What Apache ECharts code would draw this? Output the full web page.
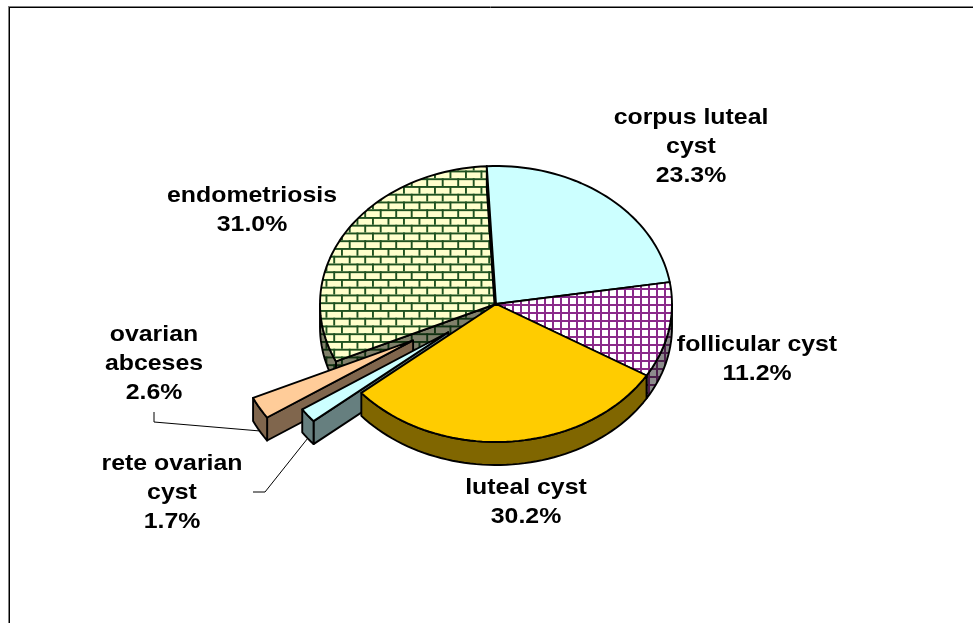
<!DOCTYPE html>
<html>
<head>
<meta charset="utf-8">
<style>
  html, body { margin: 0; padding: 0; background: #fff; }
  #main { width: 973px; height: 623px; }
</style>
<script src="https://cdn.jsdelivr.net/npm/echarts@6/dist/echarts.min.js"></script>
</head>
<body>
<div id="main"></div>
<script>
const categories = ['corpus luteal\ncyst', 'follicular cyst', 'luteal cyst', 'rete ovarian\ncyst', 'ovarian\nabceses', 'endometriosis'];
const values = [23.3, 11.2, 30.2, 1.7, 2.6, 31.0];
const explode = [0, 0, 0, 0.34, 0.54, 0];

// back to front, the two pulled out wedges go under the yellow slice
const drawOrder = [5, 0, 1, 4, 3, 2];

const labelAnchors = [[691, 147], [757, 359], [526, 502], [172, 493], [154, 364], [252, 210]];
const leaderBends = [null, null, null, [[253, 492], [265, 492]], [[154, 412], [154, 422]], null];

const cx = 496, cy = 304, rx = 176, ry = 138, depth = 23;
const startAngle = -3;

function makeTile(size, draw) {
  const c = document.createElement('canvas');
  c.width = c.height = size;
  draw(c.getContext('2d'));
  return { image: c, repeat: 'repeat' };
}

function brick(bg, line) {
  // two bricks across, 31px for a 15.5px pitch
  return makeTile(31, (g) => {
    g.fillStyle = bg;
    g.fillRect(0, 0, 31, 31);
    g.fillStyle = line;
    [0, 7.75, 15.5, 23.25].forEach((y, row) => {
      g.fillRect(0, y, 31, 1.9);
      const off = row % 2 ? 7.75 : 0;
      [0, 15.5].forEach((x) => g.fillRect(x + off, y, 1.9, 7.75));
    });
  });
}

function check(bg, line) {
  return makeTile(16, (g) => {
    g.fillStyle = bg;
    g.fillRect(0, 0, 16, 16);
    g.fillStyle = line;
    [0, 8].forEach((p) => {
      g.fillRect(p, 0, 2, 16);
      g.fillRect(0, p, 16, 2);
    });
  });
}

const topFills = ['#CCFFFF', check('#FFFFFF', '#8A2A8A'), '#FFCC00', '#CCFFFF', '#FFCC99', brick('#FFFFCC', '#1F5220')];
const wallFills = ['#667F7F', check('#8C8C8C', '#4A1F4A'), '#806600', '#667F7F', '#80664D', brick('#80806A', '#0F2F10')];

const slices = [];
let acc = startAngle;
values.forEach((v) => {
  const a0 = acc;
  acc += v / 100 * 360;
  slices.push([a0, acc]);
});

function rad(d) { return d * Math.PI / 180; }

function onRim(ox, oy, deg) {
  return [ox + rx * Math.sin(rad(deg)), oy - ry * Math.cos(rad(deg))];
}

function arc(ox, oy, a0, a1) {
  const n = Math.max(2, Math.ceil(Math.abs(a1 - a0) / 2));
  const pts = [];
  for (let i = 0; i <= n; i++) pts.push(onRim(ox, oy, a0 + (a1 - a0) * i / n));
  return pts;
}

function face(points, fill) {
  return {
    type: 'polygon',
    shape: { points: points },
    style: { fill: fill, stroke: '#000', lineWidth: 1.9, lineJoin: 'round' },
    silent: true
  };
}

function renderSlice(params) {
  const i = drawOrder[params.dataIndex];
  const a0 = slices[i][0], a1 = slices[i][1];
  const mid = (a0 + a1) / 2;
  const ox = cx + explode[i] * rx * Math.sin(rad(mid));
  const oy = cy - explode[i] * ry * Math.cos(rad(mid));
  const children = [];

  if (leaderBends[i]) {
    const end = onRim(ox, oy + depth, mid);
    children.push({
      type: 'polyline',
      shape: { points: leaderBends[i].concat([end]) },
      style: { fill: 'none', stroke: '#000', lineWidth: 1 },
      silent: true
    });
  }

  // cut wall shows only when the start edge faces the viewer
  if (Math.sin(rad(a0)) < 0) {
    const rim = onRim(ox, oy, a0);
    children.push(face([[ox, oy], rim, [rim[0], rim[1] + depth], [ox, oy + depth]], wallFills[i]));
  }

  // rim wall, front half of the ellipse only
  const w0 = Math.max(a0, 90), w1 = Math.min(a1, 270);
  if (w1 > w0) {
    const upper = arc(ox, oy, w0, w1);
    const lower = arc(ox, oy + depth, w1, w0);
    children.push(face(upper.concat(lower), wallFills[i]));
  }

  children.push(face([[ox, oy]].concat(arc(ox, oy, a0, a1)), topFills[i]));

  return { type: 'group', children: children };
}

function renderLabel(params) {
  const i = params.dataIndex;
  return {
    type: 'text',
    silent: true,
    x: labelAnchors[i][0],
    y: labelAnchors[i][1],
    scaleX: 1.13,
    style: {
      x: 0,
      y: 0,
      text: categories[i] + '\n' + values[i].toFixed(1) + '%',
      align: 'center',
      verticalAlign: 'middle',
      fontFamily: '"Liberation Sans", Arial, sans-serif',
      fontWeight: 'bold',
      fontSize: 22,
      lineHeight: 29,
      fill: '#000'
    }
  };
}

const chart = echarts.init(document.getElementById('main'), null, { renderer: 'canvas' });
chart.setOption({
  animation: false,
  backgroundColor: '#fff',
  graphic: [
    { type: 'line', silent: true, shape: { x1: 8, y1: 6.5, x2: 973, y2: 6.5 }, style: { stroke: '#808080', lineWidth: 1 } },
    { type: 'line', silent: true, shape: { x1: 8, y1: 7.5, x2: 973, y2: 7.5 }, style: { stroke: '#000', lineWidth: 1 } },
    { type: 'line', silent: true, shape: { x1: 8.5, y1: 7, x2: 8.5, y2: 623 }, style: { stroke: '#808080', lineWidth: 1 } },
    { type: 'line', silent: true, shape: { x1: 9.5, y1: 7, x2: 9.5, y2: 623 }, style: { stroke: '#000', lineWidth: 1 } }
  ],
  series: [
    {
      type: 'custom',
      coordinateSystem: 'none',
      renderItem: renderSlice,
      data: drawOrder.map((i) => values[i])
    },
    {
      type: 'custom',
      coordinateSystem: 'none',
      renderItem: renderLabel,
      data: values
    }
  ]
});
</script>
</body>
</html>
